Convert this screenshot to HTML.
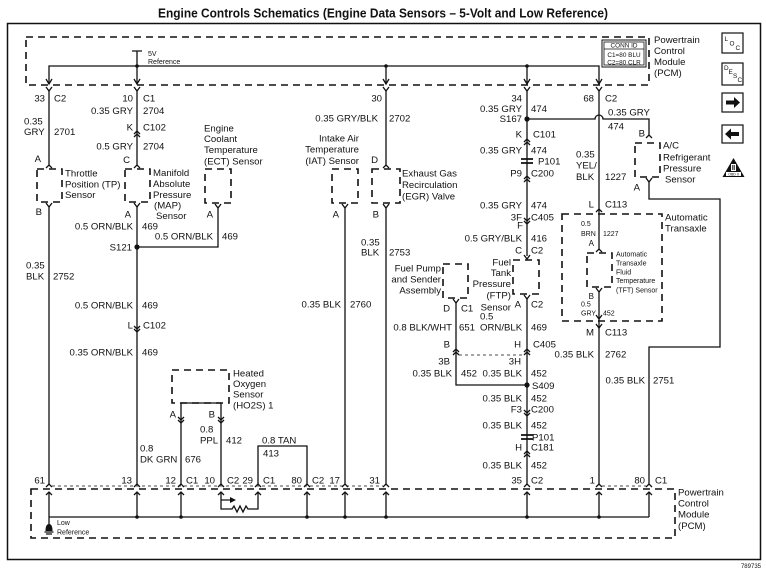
<!DOCTYPE html>
<html><head><meta charset="utf-8"><style>
html,body{margin:0;padding:0;background:#fff}
svg{display:block}
text{font-family:"Liberation Sans",Arial,sans-serif;font-size:9.6px;fill:#111}
.s{font-size:7px}
.t{font-size:6.4px}
.w{stroke:#111;stroke-width:1.3;fill:none}
.d{stroke:#111;stroke-width:1.6;fill:none;stroke-dasharray:7 5}
.th{stroke:#111;stroke-width:0.8;fill:none;stroke-dasharray:3 3}
</style></head><body>
<svg width="766" height="575" viewBox="0 0 766 575" xmlns="http://www.w3.org/2000/svg">
<rect x="0" y="0" width="766" height="575" fill="#fff"/>
<text x="383" y="17.5" text-anchor="middle" style="font-size:12.5px;font-weight:bold" textLength="450" lengthAdjust="spacingAndGlyphs">Engine Controls Schematics (Engine Data Sensors – 5-Volt and Low Reference)</text>
<rect x="7.5" y="23.5" width="753" height="536" class="w" style="stroke-width:1.5"/>

<!-- top PCM box -->
<path d="M26,37 H649 V85 H26 Z" class="d"/>
<rect x="602" y="40" width="44" height="27" class="w" style="stroke-width:1"/>
<rect x="604" y="42" width="40" height="23" class="w" style="stroke-width:0.8"/>
<line x1="604" y1="49" x2="644" y2="49" class="w" style="stroke-width:0.8"/>
<text x="624" y="47.5" text-anchor="middle" class="t">CONN ID</text>
<text x="624" y="57" text-anchor="middle" class="t">C1=80 BLU</text>
<text x="624" y="64.5" text-anchor="middle" class="t">C2=80 CLR</text>
<text x="654" y="43">Powertrain</text>
<text x="654" y="54">Control</text>
<text x="654" y="65">Module</text>
<text x="654" y="76">(PCM)</text>

<!-- 5V reference -->
<path d="M137,51 V84 M132,51 H142 M49,84 V66 H599 V84 M386,66 V84 M527,66 V84" class="w"/>
<circle cx="137" cy="66" r="1.8" fill="#111"/><circle cx="386" cy="66" r="1.8" fill="#111"/><circle cx="527" cy="66" r="1.8" fill="#111"/>
<text x="148" y="56" class="s">5V</text>
<text x="148" y="64" class="s">Reference</text>
<g class="w">
<polyline points="46,79 49,84 52,79"/><polyline points="134,79 137,84 140,79"/><polyline points="383,79 386,84 389,79"/><polyline points="524,79 527,84 530,79"/><polyline points="596,79 599,84 602,79"/>
<polyline points="46,87 49,91 52,87"/><polyline points="134,87 137,91 140,87"/><polyline points="383,87 386,91 389,87"/><polyline points="524,87 527,91 530,87"/><polyline points="596,87 599,91 602,87"/>
</g>

<!-- Column 49 TP -->
<path d="M49,91 V165 M49,207 V484 M49,492 V517" class="w"/>
<polyline points="46,168 49,165 52,168" class="w"/>
<rect x="37" y="169" width="25" height="33" class="d"/>
<polyline points="46,203 49,207 52,203" class="w"/>
<text x="45" y="101.5" text-anchor="end">33</text><text x="54" y="101.5">C2</text>
<text x="24" y="124.5">0.35</text><text x="24" y="135">GRY</text><text x="54" y="135">2701</text>
<text x="41" y="162" text-anchor="end">A</text>
<text x="65" y="176.5">Throttle</text><text x="65" y="187.5">Position (TP)</text><text x="65" y="198">Sensor</text>
<text x="42" y="215" text-anchor="end">B</text>
<text x="26" y="268.5">0.35</text><text x="26" y="279.5">BLK</text><text x="53" y="279.5">2752</text>
<text x="45" y="483.5" text-anchor="end">61</text>

<!-- Column 137 MAP -->
<path d="M137,91 V165 M137,207 V484 M137,492 V517" class="w"/>
<polyline points="134,134 137,131 140,134" class="w"/><polyline points="134,137 137,134 140,137" class="w"/>
<polyline points="134,168 137,165 140,168" class="w"/>
<rect x="125" y="169" width="25" height="33" class="d"/>
<polyline points="134,203 137,207 140,203" class="w"/>
<polyline points="134,326 137,329 140,326" class="w"/><polyline points="134,329 137,332 140,329" class="w"/>
<text x="133" y="101.5" text-anchor="end">10</text><text x="143" y="101.5">C1</text>
<text x="133" y="114" text-anchor="end">0.35 GRY</text><text x="143" y="114">2704</text>
<text x="133" y="130.5" text-anchor="end">K</text><text x="143" y="130.5">C102</text>
<text x="133" y="149.5" text-anchor="end">0.5 GRY</text><text x="143" y="149.5">2704</text>
<text x="130" y="163" text-anchor="end">C</text>
<text x="153" y="176">Manifold</text><text x="153" y="187">Absolute</text><text x="153" y="198">Pressure</text><text x="154" y="208.5">(MAP)</text><text x="156" y="219">Sensor</text>
<text x="131" y="217.5" text-anchor="end">A</text>
<text x="133" y="229.5" text-anchor="end">0.5 ORN/BLK</text><text x="142" y="229.5">469</text>
<text x="132" y="250.5" text-anchor="end">S121</text>
<circle cx="137" cy="247" r="2.6" fill="#111"/>
<text x="133" y="308.5" text-anchor="end">0.5 ORN/BLK</text><text x="142" y="308.5">469</text>
<text x="133" y="328.5" text-anchor="end">L</text><text x="143" y="328.5">C102</text>
<text x="133" y="355.5" text-anchor="end">0.35 ORN/BLK</text><text x="142" y="355.5">469</text>
<text x="140" y="451.5">0.8</text><text x="140" y="462.5">DK GRN</text><text x="185" y="462.5">676</text>
<text x="132" y="483.5" text-anchor="end">13</text>

<!-- ECT -->
<rect x="205" y="169" width="26" height="34" class="d"/>
<polyline points="215,204 218,208 221,204" class="w"/>
<path d="M218,208 V247 H137" class="w"/>
<text x="204" y="131.5">Engine</text><text x="204" y="142">Coolant</text><text x="204" y="153">Temperature</text><text x="204" y="164.5">(ECT) Sensor</text>
<text x="213" y="217.5" text-anchor="end">A</text>
<text x="213" y="239.5" text-anchor="end">0.5 ORN/BLK</text><text x="222" y="239.5">469</text>

<!-- IAT -->
<rect x="332" y="169" width="26" height="34" class="d"/>
<polyline points="342,204 345,208 348,204" class="w"/>
<path d="M345,208 V484 M345,492 V517" class="w"/>
<text x="359" y="141.5" text-anchor="end">Intake Air</text><text x="359" y="152.5" text-anchor="end">Temperature</text><text x="359" y="164" text-anchor="end">(IAT) Sensor</text>
<text x="339" y="217.5" text-anchor="end">A</text>
<text x="341" y="307.5" text-anchor="end">0.35 BLK</text><text x="350" y="307.5">2760</text>
<text x="340" y="483.5" text-anchor="end">17</text>

<!-- EGR -->
<path d="M386,91 V165 M386,208 V484 M386,492 V517" class="w"/>
<polyline points="383,168 386,165 389,168" class="w"/>
<rect x="372" y="169" width="28" height="34" class="d"/>
<polyline points="383,204 386,208 389,204" class="w"/>
<text x="382" y="101.5" text-anchor="end">30</text>
<text x="378" y="121.5" text-anchor="end">0.35 GRY/BLK</text><text x="389" y="121.5">2702</text>
<text x="378" y="163" text-anchor="end">D</text>
<text x="402" y="176.5">Exhaust Gas</text><text x="402" y="188">Recirculation</text><text x="402" y="199.5">(EGR) Valve</text>
<text x="379" y="217.5" text-anchor="end">B</text>
<text x="361" y="245.5">0.35</text><text x="361" y="255.5">BLK</text><text x="389" y="255.5">2753</text>
<text x="380" y="483.5" text-anchor="end">31</text>

<!-- HO2S -->
<rect x="172" y="370" width="57" height="33" class="d"/>
<path d="M181,403 H221 M181,403 V484 M221,403 V484 M181,492 V517" class="w"/>
<polyline points="178,417 181,420 184,417" class="w"/><polyline points="178,420 181,423 184,420" class="w"/>
<polyline points="218,417 221,420 224,417" class="w"/><polyline points="218,420 221,423 224,420" class="w"/>
<text x="233" y="376.5">Heated</text><text x="233" y="387">Oxygen</text><text x="233" y="397.5">Sensor</text><text x="233" y="408.5">(HO2S) 1</text>
<text x="176" y="417.5" text-anchor="end">A</text><text x="215" y="417.5" text-anchor="end">B</text>
<text x="200" y="432.5">0.8</text><text x="200" y="443.5">PPL</text><text x="226" y="443.5">412</text>
<path d="M258,484 V446 H307 V484 M307,492 V517" class="w"/>
<text x="262" y="443.5">0.8 TAN</text><text x="263" y="456.5">413</text>
<path d="M221,492 V509 H232 L234,506 L237,512 L240,506 L243,512 L246,506 L248,509 H258 V492 M221,500 H231" class="w"/>
<polygon points="230,497 236,500 230,503" fill="#111"/>

<!-- bottom labels -->
<text x="176" y="483.5" text-anchor="end">12</text><text x="186" y="483.5">C1</text>
<text x="215" y="483.5" text-anchor="end">10</text><text x="227" y="483.5">C2</text>
<text x="253" y="483.5" text-anchor="end">29</text><text x="263" y="483.5">C1</text>
<text x="302" y="483.5" text-anchor="end">80</text><text x="312" y="483.5">C2</text>

<!-- Fuel pump col 456 -->
<rect x="443" y="264" width="25" height="34" class="d"/>
<polyline points="453,299 456,303 459,299" class="w"/>
<path d="M456,303 V385 H527" class="w"/>
<polyline points="453,352 456,349 459,352" class="w"/><polyline points="453,355 456,352 459,355" class="w"/>
<line x1="459" y1="355" x2="524" y2="355" class="th"/>
<text x="441" y="271.5" text-anchor="end">Fuel Pump</text><text x="441" y="282.5" text-anchor="end">and Sender</text><text x="441" y="293.5" text-anchor="end">Assembly</text>
<text x="450" y="311.5" text-anchor="end">D</text><text x="461" y="311.5">C1</text>
<text x="452" y="330.5" text-anchor="end">0.8 BLK/WHT</text><text x="459" y="330.5">651</text>
<text x="450" y="347.5" text-anchor="end">B</text>
<text x="450" y="364.5" text-anchor="end">3B</text>
<text x="452" y="376.5" text-anchor="end">0.35 BLK</text><text x="461" y="376.5">452</text>

<!-- Column 527 -->
<path d="M527,91 V256 M527,299 V484 M527,492 V517" class="w"/>
<circle cx="527" cy="119" r="2.6" fill="#111"/>
<polyline points="524,142 527,139 530,142" class="w"/><polyline points="524,145 527,142 530,145" class="w"/>
<path d="M521,159 H533 M521,163 H533" class="w" style="stroke-width:1.8"/>
<polyline points="524,179 527,176 530,179" class="w"/><polyline points="524,182 527,179 530,182" class="w"/>
<polyline points="524,218 527,221 530,218" class="w"/><polyline points="524,221 527,224 530,221" class="w"/>
<polyline points="524,255 527,259 530,255" class="w"/>
<rect x="513" y="260" width="26" height="34" class="d"/>
<polyline points="524,295 527,299 530,295" class="w"/>
<polyline points="524,352 527,349 530,352" class="w"/><polyline points="524,355 527,352 530,355" class="w"/>
<circle cx="527" cy="385" r="2.6" fill="#111"/>
<polyline points="524,410 527,413 530,410" class="w"/><polyline points="524,413 527,416 530,413" class="w"/>
<path d="M521,435 H533 M521,439 H533" class="w" style="stroke-width:1.8"/>
<polyline points="524,454 527,451 530,454" class="w"/><polyline points="524,457 527,454 530,457" class="w"/>
<text x="522" y="101.5" text-anchor="end">34</text>
<text x="522" y="112" text-anchor="end">0.35 GRY</text><text x="531" y="112">474</text>
<text x="522" y="122" text-anchor="end">S167</text>
<text x="522" y="137.5" text-anchor="end">K</text><text x="533" y="137.5">C101</text>
<text x="522" y="153.5" text-anchor="end">0.35 GRY</text><text x="531" y="153.5">474</text>
<text x="538" y="164.5">P101</text>
<text x="522" y="176.5" text-anchor="end">P9</text><text x="531" y="176.5">C200</text>
<text x="522" y="208.5" text-anchor="end">0.35 GRY</text><text x="531" y="208.5">474</text>
<text x="522" y="220.5" text-anchor="end">3F</text><text x="531" y="220.5">C405</text>
<text x="523" y="228.5" text-anchor="end">F</text>
<text x="522" y="241.5" text-anchor="end">0.5 GRY/BLK</text><text x="531" y="241.5">416</text>
<text x="522" y="253.5" text-anchor="end">C</text><text x="531" y="253.5">C2</text>
<text x="511" y="265.5" text-anchor="end">Fuel</text><text x="511" y="276" text-anchor="end">Tank</text><text x="511" y="287" text-anchor="end">Pressure</text><text x="511" y="298.5" text-anchor="end">(FTP)</text><text x="511" y="310.5" text-anchor="end">Sensor</text>
<text x="521" y="307.5" text-anchor="end">A</text><text x="531" y="307.5">C2</text>
<text x="480" y="319.5">0.5</text><text x="480" y="330.5">ORN/BLK</text><text x="531" y="330.5">469</text>
<text x="521" y="347.5" text-anchor="end">H</text><text x="533" y="347.5">C405</text>
<text x="521" y="364.5" text-anchor="end">3H</text>
<text x="522" y="376.5" text-anchor="end">0.35 BLK</text><text x="531" y="376.5">452</text>
<text x="532" y="389">S409</text>
<text x="522" y="401.5" text-anchor="end">0.35 BLK</text><text x="531" y="401.5">452</text>
<text x="522" y="412.5" text-anchor="end">F3</text><text x="531" y="412.5">C200</text>
<text x="522" y="428.5" text-anchor="end">0.35 BLK</text><text x="531" y="428.5">452</text>
<text x="532" y="440.5">P101</text>
<text x="522" y="450.5" text-anchor="end">H</text><text x="531" y="450.5">C181</text>
<text x="522" y="468.5" text-anchor="end">0.35 BLK</text><text x="531" y="468.5">452</text>
<text x="522" y="483.5" text-anchor="end">35</text><text x="531" y="483.5">C2</text>

<!-- S167 branch to A/C -->
<path d="M527,119 H595 A4,4 0 0 1 603,119 H649 V135" class="w"/>
<polyline points="646,138 649,135 652,138" class="w"/>
<rect x="635" y="143" width="25" height="34" class="d"/>
<polyline points="646,178 649,182 652,178" class="w"/>
<path d="M649,182 V199 H720 V347 H649 V484 M649,492 V517" class="w"/>
<text x="608" y="115.5">0.35 GRY</text><text x="608" y="129.5">474</text>
<text x="645" y="136.5" text-anchor="end">B</text>
<text x="663" y="148.5">A/C</text><text x="663" y="160.5">Refrigerant</text><text x="663" y="171.5">Pressure</text><text x="665" y="182.5">Sensor</text>
<text x="640" y="190.5" text-anchor="end">A</text>
<text x="645" y="383.5" text-anchor="end">0.35 BLK</text><text x="653" y="383.5">2751</text>
<text x="645" y="483.5" text-anchor="end">80</text><text x="655" y="483.5">C1</text>

<!-- Column 599 -->
<path d="M599,91 V249 M599,292 V484 M599,492 V517" class="w"/>
<polyline points="596,212 599,209 602,212" class="w"/>
<polyline points="596,252 599,249 602,252" class="w"/>
<rect x="562" y="214" width="100" height="107" class="d"/>
<rect x="587" y="253" width="25" height="34" class="d"/>
<polyline points="596,288 599,292 602,288" class="w"/>
<polyline points="596,315 599,319 602,315" class="w"/>
<polyline points="596,324 599,328 602,324" class="w"/>
<text x="594" y="101.5" text-anchor="end">68</text><text x="605" y="101.5">C2</text>
<text x="576" y="157.5">0.35</text><text x="576" y="168.5">YEL/</text><text x="576" y="180">BLK</text><text x="605" y="180">1227</text>
<text x="594" y="207.5" text-anchor="end">L</text><text x="605" y="207.5">C113</text>
<text x="665" y="220.5">Automatic</text><text x="665" y="231.5">Transaxle</text>
<text x="581" y="226" class="s">0.5</text><text x="581" y="236" class="s">BRN</text><text x="603" y="236" class="s">1227</text>
<text x="594" y="246" text-anchor="end" style="font-size:8px">A</text>
<text x="616" y="256.5" class="s">Automatic</text><text x="616" y="265.5" class="s">Transaxle</text><text x="616" y="274.5" class="s">Fluid</text><text x="616" y="283" class="s">Temperature</text><text x="616" y="292.5" class="s">(TFT) Sensor</text>
<text x="594" y="299" text-anchor="end" style="font-size:8px">B</text>
<text x="581" y="306.5" class="s">0.5</text><text x="581" y="315.5" class="s">GRY</text><text x="603" y="315.5" class="s">452</text>
<text x="594" y="335.5" text-anchor="end">M</text><text x="605" y="335.5">C113</text>
<text x="594" y="357.5" text-anchor="end">0.35 BLK</text><text x="605" y="357.5">2762</text>
<text x="595" y="483.5" text-anchor="end">1</text>

<!-- bottom connectors -->
<g class="w">
<polyline points="46,487 49,484 52,487"/><polyline points="134,487 137,484 140,487"/><polyline points="178,487 181,484 184,487"/><polyline points="218,487 221,484 224,487"/><polyline points="255,487 258,484 261,487"/><polyline points="304,487 307,484 310,487"/><polyline points="342,487 345,484 348,487"/><polyline points="383,487 386,484 389,487"/><polyline points="524,487 527,484 530,487"/><polyline points="596,487 599,484 602,487"/><polyline points="646,487 649,484 652,487"/>
<polyline points="46,495 49,492 52,495"/><polyline points="134,495 137,492 140,495"/><polyline points="178,495 181,492 184,495"/><polyline points="218,495 221,492 224,495"/><polyline points="255,495 258,492 261,495"/><polyline points="304,495 307,492 310,495"/><polyline points="342,495 345,492 348,495"/><polyline points="383,495 386,492 389,495"/><polyline points="524,495 527,492 530,495"/><polyline points="596,495 599,492 602,495"/><polyline points="646,495 649,492 652,495"/>
</g>
<path d="M52,486 H383 M602,486 H646" class="th"/>
<rect x="31" y="489" width="644" height="49" class="d"/>
<path d="M49,517 H649 M49,517 V525" class="w"/>
<g fill="#111"><circle cx="137" cy="517" r="1.8"/><circle cx="181" cy="517" r="1.8"/><circle cx="307" cy="517" r="1.8"/><circle cx="345" cy="517" r="1.8"/><circle cx="386" cy="517" r="1.8"/><circle cx="527" cy="517" r="1.8"/><circle cx="599" cy="517" r="1.8"/></g>
<path d="M45.5,531 Q45.5,524 49,524 Q52.5,524 52.5,531 Z" fill="#111"/>
<path d="M44.5,532 H53.5 M46,534 H52" class="w" style="stroke-width:1.2"/>
<text x="57" y="525" class="s">Low</text><text x="57" y="534.5" class="s">Reference</text>
<text x="678" y="495.5">Powertrain</text><text x="678" y="506.5">Control</text><text x="678" y="517.5">Module</text><text x="678" y="529">(PCM)</text>

<!-- icons -->
<rect x="722" y="33" width="21" height="20" class="w" style="stroke-width:1.2"/>
<text x="724.5" y="41" class="t">L</text><text x="729.5" y="45.5" class="t">O</text><text x="735.5" y="50" class="t">C</text>
<rect x="722" y="63" width="21" height="22" class="w" style="stroke-width:1.2"/>
<text x="724" y="70" class="t">D</text><text x="728.5" y="74" class="t">E</text><text x="733" y="78" class="t">S</text><text x="737.5" y="82" class="t">C</text>
<rect x="722" y="93" width="21" height="19" class="w" style="stroke-width:1.2"/>
<polygon points="726,100.5 734,100.5 734,97 740,102.5 734,108 734,104.5 726,104.5" fill="#111"/>
<rect x="722" y="125" width="21" height="18" class="w" style="stroke-width:1.2"/>
<polygon points="739,132 731,132 731,128.5 725,134 731,139.5 731,136 739,136" fill="#111"/>
<polygon points="733.5,158 722.5,177 744.5,177" fill="#111"/>
<rect x="731" y="164" width="5" height="7" fill="#fff"/>
<rect x="732.3" y="165" width="0.9" height="5" fill="#111"/><rect x="733.8" y="165" width="0.9" height="5" fill="#111"/>
<rect x="726" y="172" width="15" height="4" fill="#fff"/>
<text x="733.5" y="175.5" text-anchor="middle" style="font-size:3.5px">OBD II</text>

<text x="761" y="568" text-anchor="end" style="font-size:6px">789735</text>
</svg>
</body></html>
